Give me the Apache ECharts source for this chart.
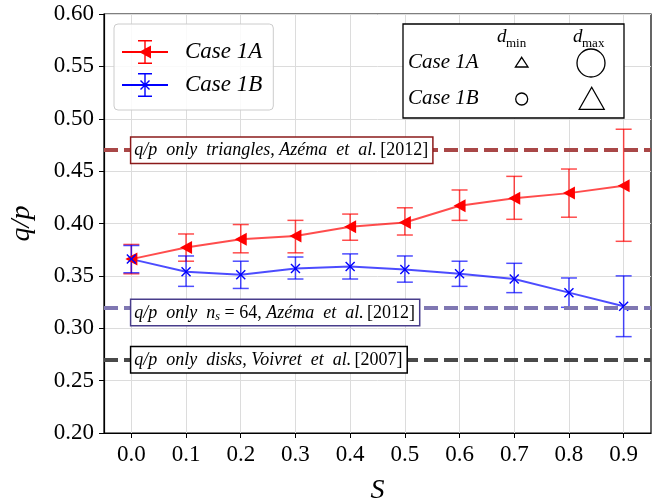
<!DOCTYPE html>
<html>
<head>
<meta charset="utf-8">
<script src="https://cdn.jsdelivr.net/npm/echarts@6/dist/echarts.min.js"></script>
<style>html,body{margin:0;padding:0;background:#fff;}#c{width:665px;height:502px;}</style>
</head>
<body>
<div id="c"></div>
<script>
const categories = ['0.0','0.1','0.2','0.3','0.4','0.5','0.6','0.7','0.8','0.9'];
const caseA     = [0.366, 0.377, 0.385, 0.388, 0.397, 0.401, 0.417, 0.424, 0.429, 0.436];
const caseALow  = [0.352, 0.364, 0.372, 0.372, 0.384, 0.389, 0.403, 0.404, 0.406, 0.383];
const caseAHigh = [0.380, 0.390, 0.399, 0.403, 0.409, 0.415, 0.432, 0.445, 0.452, 0.490];
const caseB     = [0.366, 0.354, 0.351, 0.357, 0.359, 0.356, 0.352, 0.347, 0.334, 0.321];
const caseBLow  = [0.353, 0.340, 0.338, 0.347, 0.347, 0.344, 0.340, 0.334, 0.320, 0.292];
const caseBHigh = [0.379, 0.369, 0.364, 0.368, 0.371, 0.369, 0.364, 0.362, 0.348, 0.350];
const refTriangles = 0.47;
const refNs64 = 0.315;
const refDisks = 0.27;
const yTicks = [0.20,0.25,0.30,0.35,0.40,0.45,0.50,0.55,0.60];

const FF = 'Liberation Serif';
const chart = echarts.init(document.getElementById('c'), null, {renderer:'canvas'});

function errData(lo, hi){ return lo.map((v,i)=>[i, v, hi[i]]); }
function errRender(color){
  return function(params, api){
    const x = api.value(0);
    const p1 = api.coord([x, api.value(1)]);
    const p2 = api.coord([x, api.value(2)]);
    const w = 8;
    const st = {stroke: color, lineWidth: 1.5};
    return {type:'group', children:[
      {type:'line', shape:{x1:p1[0],y1:p1[1],x2:p2[0],y2:p2[1]}, style:st},
      {type:'line', shape:{x1:p1[0]-w,y1:p1[1],x2:p1[0]+w,y2:p1[1]}, style:st},
      {type:'line', shape:{x1:p2[0]-w,y1:p2[1],x2:p2[0]+w,y2:p2[1]}, style:st}
    ]};
  };
}

const triLeft = 'path://M0,6 L12,0 L12,12 Z';
const xMark = 'path://M0,1 L1,0 L5,4 L9,0 L10,1 L6,5 L10,9 L9,10 L5,6 L1,10 L0,9 L4,5 Z';
const iconBase = 'M0,11 L46,11 L46,13 L0,13 Z M22.3,0 L23.7,0 L23.7,24 L22.3,24 Z M16,0 L30,0 L30,1.4 L16,1.4 Z M16,22.6 L30,22.6 L30,24 L16,24 Z ';
const iconA = 'path://' + iconBase + 'M17,12 L29,5.5 L29,18.5 Z';
const iconB = 'path://' + iconBase + 'M18,8 L19,7 L23,11 L27,7 L28,8 L24,12 L28,16 L27,17 L23,13 L19,17 L18,16 L22,12 Z';

const boxLabel = (border) => ({
  show:true, position:'right', distance:0,
  backgroundColor:'#fff', borderColor:border, borderWidth:1.5,
  padding:[3,4,2,3],
  rich:{
    i:{fontFamily:FF, fontStyle:'italic', fontSize:18, color:'#000', lineHeight:20},
    r:{fontFamily:FF, fontSize:18, color:'#000', lineHeight:20},
    sub:{fontFamily:FF, fontStyle:'italic', fontSize:12, color:'#000', verticalAlign:'bottom', lineHeight:20}
  }
});

const option = {
  animation:false,
  backgroundColor:'#fff',
  grid:{left:104, right:14, top:14, bottom:69, show:true, borderColor:'#000', borderWidth:1.2, backgroundColor:'transparent', outerBoundsMode:'none', containLabel:false},
  xAxis:{
    type:'category', data:categories, boundaryGap:true,
    name:'S', nameLocation:'middle', nameGap:44,
    nameTextStyle:{fontFamily:FF, fontStyle:'italic', fontSize:28, color:'#000'},
    axisLine:{show:true, lineStyle:{color:'#000', width:1.2}},
    axisTick:{show:true, alignWithLabel:true, inside:false, length:5, lineStyle:{color:'#000', width:1}},
    axisLabel:{fontFamily:FF, fontSize:23, color:'#000', margin:10},
    splitLine:{show:true, alignWithLabel:true, lineStyle:{color:'#dcdcdc', width:1}}
  },
  yAxis:{
    type:'value', min:0.2, max:0.6, interval:0.05,
    name:'q/p', nameLocation:'middle', nameGap:68, nameRotate:90,
    nameTextStyle:{fontFamily:FF, fontStyle:'italic', fontSize:28, color:'#000'},
    axisLine:{show:true, lineStyle:{color:'#000', width:1.2}},
    axisTick:{show:true, length:5, lineStyle:{color:'#000', width:1}},
    axisLabel:{fontFamily:FF, fontSize:23, color:'#000', margin:10, formatter:(v)=>v.toFixed(2)},
    splitLine:{show:true, lineStyle:{color:'#dcdcdc', width:1}}
  },
  legend:{
    orient:'vertical', left:114, top:24,
    padding:[16,11,13,8],
    borderColor:'#cccccc', borderWidth:1, borderRadius:4,
    backgroundColor:'rgba(255,255,255,0.85)',
    itemWidth:46, itemHeight:24, itemGap:9,
    textStyle:{fontFamily:FF, fontStyle:'italic', fontSize:23, color:'#000', padding:[0,0,0,12]},
    data:[{name:'Case 1A', icon:iconA}, {name:'Case 1B', icon:iconB}]
  },
  series:[
    {
      type:'line', name:'refs', data:[], z:1, silent:true,
      markLine:{
        symbol:'none', silent:true, animation:false,
        label:{show:false},
        lineStyle:{type:[14,6], width:4},
        data:[
          {yAxis:refTriangles, lineStyle:{color:'#a94747', type:[14,6], width:4}},
          {yAxis:refNs64, lineStyle:{color:'#7f77b2', type:[14,6], width:4}},
          {yAxis:refDisks, lineStyle:{color:'#494949', type:[14,6], width:4}}
        ]
      },
      markPoint:{
        symbol:'circle', symbolSize:0, silent:true, animation:false,
        data:[
          {coord:[categories[0], refTriangles], label:Object.assign(boxLabel('#8b1a1a'), {formatter:'{i|q/p  only  triangles, Azéma  et  al.} {r|[2012]}'})},
          {coord:[categories[0], refNs64], label:Object.assign(boxLabel('#483d8b'), {formatter:'{i|q/p  only  n}{sub|s}{r| = 64, }{i|Azéma  et  al.} {r|[2012]}'})},
          {coord:[categories[0], refDisks], label:Object.assign(boxLabel('#000000'), {formatter:'{i|q/p  only  disks, Voivret  et  al.} {r|[2007]}'})}
        ]
      }
    },
    {
      type:'custom', name:'Case 1A', z:3,
      renderItem:errRender('rgba(255,0,0,0.7)'),
      encode:{x:0, y:[1,2]},
      data:errData(caseALow, caseAHigh),
      itemStyle:{color:'red'}
    },
    {
      type:'custom', name:'Case 1B', z:3,
      renderItem:errRender('rgba(0,0,255,0.7)'),
      encode:{x:0, y:[1,2]},
      data:errData(caseBLow, caseBHigh),
      itemStyle:{color:'blue'}
    },
    {
      type:'line', name:'Case 1A', data:caseA, z:4,
      symbol:triLeft, symbolSize:[12,13], showSymbol:true,
      itemStyle:{color:'#ff0000'},
      lineStyle:{color:'rgba(255,0,0,0.7)', width:2}
    },
    {
      type:'line', name:'Case 1B', data:caseB, z:4,
      symbol:xMark, symbolSize:10, showSymbol:true,
      itemStyle:{color:'#0000ff'},
      lineStyle:{color:'rgba(0,0,255,0.7)', width:2}
    }
  ],
  graphic:[
    {type:'rect', z:100, shape:{x:403, y:24, width:221, height:94}, style:{fill:'#fff', stroke:'#000', lineWidth:1.3}},
    {type:'text', z:101, x:408, y:62, style:{text:'Case 1A', font:'italic 21px "Liberation Serif"', fill:'#000', verticalAlign:'middle'}},
    {type:'text', z:101, x:408, y:98, style:{text:'Case 1B', font:'italic 21px "Liberation Serif"', fill:'#000', verticalAlign:'middle'}},
    {type:'text', z:101, x:497, y:37, style:{text:'d', font:'italic 19px "Liberation Serif"', fill:'#000', verticalAlign:'middle'}},
    {type:'text', z:101, x:506, y:44, style:{text:'min', font:'13px "Liberation Serif"', fill:'#000', verticalAlign:'middle'}},
    {type:'text', z:101, x:573, y:37, style:{text:'d', font:'italic 19px "Liberation Serif"', fill:'#000', verticalAlign:'middle'}},
    {type:'text', z:101, x:582, y:44, style:{text:'max', font:'13px "Liberation Serif"', fill:'#000', verticalAlign:'middle'}},
    {type:'polygon', z:101, shape:{points:[[521.7,57.3],[528,67],[515.4,67]]}, style:{fill:'none', stroke:'#000', lineWidth:1.3}},
    {type:'circle', z:101, shape:{cx:591, cy:63, r:14}, style:{fill:'none', stroke:'#000', lineWidth:1.3}},
    {type:'circle', z:101, shape:{cx:521.7, cy:99, r:6}, style:{fill:'none', stroke:'#000', lineWidth:1.3}},
    {type:'polygon', z:101, shape:{points:[[591.7,87.3],[604.2,109.3],[579.2,109.3]]}, style:{fill:'none', stroke:'#000', lineWidth:1.3}}
  ]
};
chart.setOption(option);
</script>
</body>
</html>
